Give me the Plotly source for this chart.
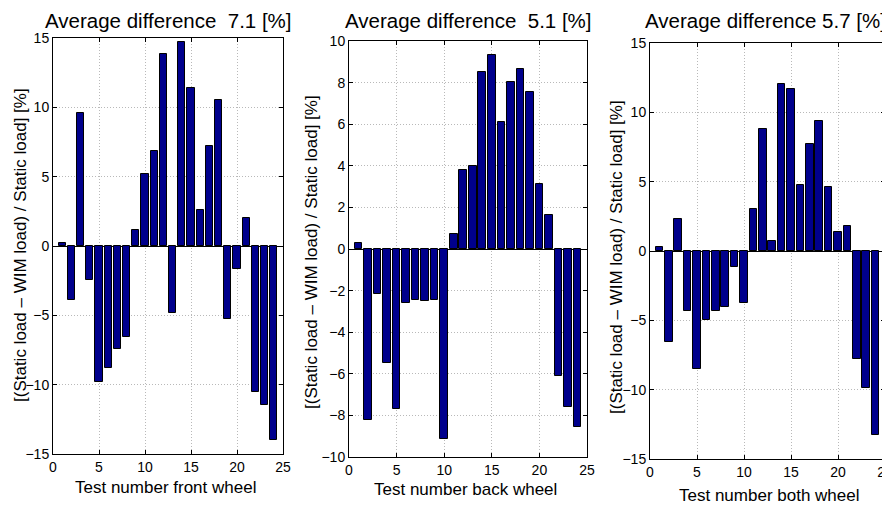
import plotly.graph_objects as go

# Test numbers 1..24
tests = list(range(1, 25))

# Relative difference (static - WIM) / static, in %
front_wheel = [0.2, -3.86, 9.59, -2.44, -9.83, -8.79, -7.42, -6.59, 1.14, 5.17, 6.88, 13.84,
               -4.83, 14.69, 11.43, 2.61, 7.22, 10.56, -5.27, -1.67, 2.0, -10.56, -11.47, -14.0]
back_wheel = [0.29, -8.2, -2.17, -5.47, -7.71, -2.6, -2.44, -2.5, -2.47, -9.14, 0.71, 3.82,
              3.98, 8.53, 9.32, 6.09, 8.03, 8.64, 7.57, 3.14, 1.64, -6.11, -7.6, -8.56]
both_wheel = [0.26, -6.56, 2.33, -4.33, -8.53, -4.98, -4.33, -4.06, -1.13, -3.75, 3.05, 8.77,
              0.7, 12.02, 11.66, 4.78, 7.74, 9.4, 4.59, 1.35, 1.78, -7.81, -9.88, -13.29]

titles = ['Average difference \u00a07.1 [%]', 'Average difference \u00a05.1 [%]', 'Average difference 5.7 [%]']
xlabels = ['Test number front wheel', 'Test number back wheel', 'Test number both wheel']
ylabel = '[(Static load – WIM load) / Static load] [%]'
yranges = [[-15, 15], [-10, 10], [-15, 15]]
ydticks = [5, 2, 5]

# the page body has an 8px margin, so the figure is a bit smaller than the window
OFF = 8
W, H = 890 - OFF, 507 - OFF
FONT = 'Liberation Sans, Arial, Helvetica, sans-serif'


def px(x):
    return (x - OFF) / W


def py(y):
    return 1 - (y - OFF) / H


# plot boxes in window pixels: left, right, top, bottom
boxes = [(53, 283, 38, 454), (349, 587, 41, 457), (650, 885, 43, 459)]
title_x = [168, 468, 765]
ytitle_pos = [(21, 245), (311, 252), (617, 257)]
xtitle_pos = [(165, 487), (465, 489), (769, 495)]

fig = go.Figure()
series = [front_wheel, back_wheel, both_wheel]

annotations = []
for i, vals in enumerate(series):
    n = '' if i == 0 else str(i + 1)
    fig.add_trace(go.Bar(
        x=tests, y=vals, width=0.8,
        marker=dict(color='rgb(0,0,140)', line=dict(color='black', width=1)),
        xaxis='x' + n, yaxis='y' + n, showlegend=False,
    ))
    l, r, t, b = boxes[i]
    axis_common = dict(
        showline=True, linecolor='black', linewidth=1, mirror='ticks',
        ticks='inside', ticklen=4, tickcolor='black', automargin=False,
        showgrid=True, gridcolor='rgb(185,185,185)', griddash='1px,2px', gridwidth=1,
        tickfont=dict(family=FONT, size=14, color='black'), ticklabeloverflow='allow',
    )
    fig.update_layout(**{
        'xaxis' + n: dict(axis_common, domain=[px(l), px(r)], range=[0, 25], dtick=5, tick0=0,
                          zeroline=False, anchor='y' + n),
        'yaxis' + n: dict(axis_common, domain=[py(b), py(t)], range=yranges[i],
                          dtick=ydticks[i], tick0=0, zeroline=True, zerolinecolor='black',
                          zerolinewidth=1, anchor='x' + n),
    })
    annotations.append(dict(text=titles[i], x=px(title_x[i]), y=py(20), xref='paper', yref='paper',
                            showarrow=False, font=dict(family=FONT, size=20.5, color='black'),
                            xanchor='center', yanchor='middle'))
    annotations.append(dict(text=xlabels[i], x=px(xtitle_pos[i][0]), y=py(xtitle_pos[i][1]),
                            xref='paper', yref='paper', showarrow=False,
                            font=dict(family=FONT, size=17, color='black'),
                            xanchor='center', yanchor='middle'))
    annotations.append(dict(text=ylabel, x=px(ytitle_pos[i][0]), y=py(ytitle_pos[i][1]),
                            xref='paper', yref='paper', showarrow=False, textangle=-90,
                            font=dict(family=FONT, size=17, color='black'),
                            xanchor='center', yanchor='middle'))

fig.update_layout(
    template='none',
    width=W, height=H,
    margin=dict(l=0, r=0, t=0, b=0),
    paper_bgcolor='white', plot_bgcolor='white',
    bargap=0, annotations=annotations,
)

fig.write_html('out.html')
print('finished')
